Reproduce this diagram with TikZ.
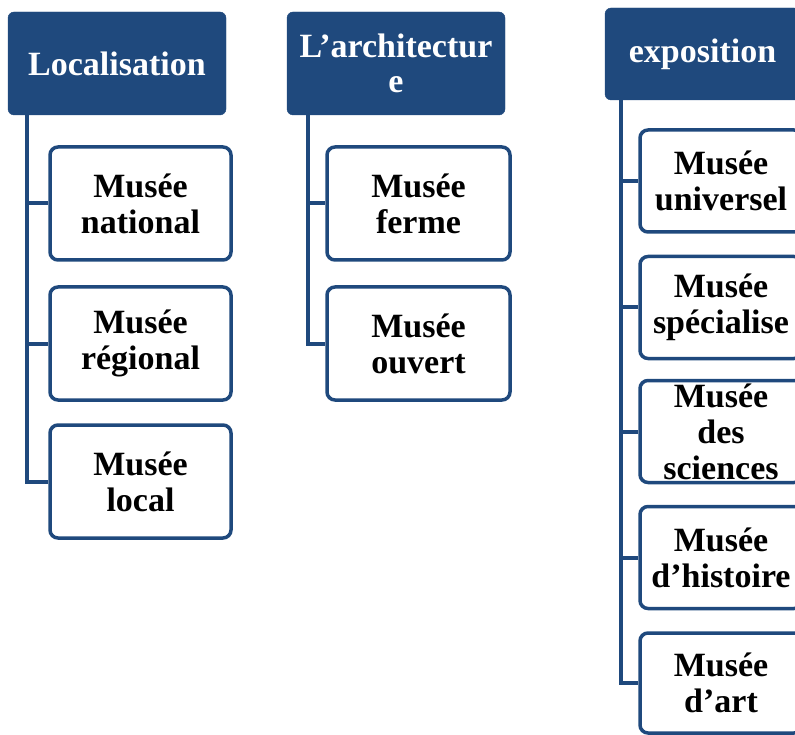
\documentclass[tikz,border=0pt]{standalone}
\usepackage{fontspec}
\setmainfont{Liberation Serif}
\usepackage{xcolor}
\definecolor{navy}{RGB}{31,73,125}

\begin{document}
\begin{tikzpicture}[x=1pt, y=-1pt,
        hdr/.style={rectangle, rounded corners=6pt, fill=navy, draw=navy, text=white, align=center, inner sep=0pt, font=\bfseries\fontsize{34}{35}\selectfont},
        item/.style={rectangle, rounded corners=8pt, fill=white, draw=navy, line width=3.5pt, align=center, inner sep=0pt, font=\bfseries\fontsize{34}{36}\selectfont},
        tree/.style={draw=navy, line width=4pt}]
        \useasboundingbox (0,0) rectangle (795,735);

        % Localisation
        \node[hdr, minimum width=218pt, minimum height=103pt] (loc) at (117, 63.5) {Localisation};
        \node[item, minimum width=181pt, minimum height=113pt] (nat) at (140.5, 203.5) {Musée\\national};
        \node[item, minimum width=181pt, minimum height=113pt] (reg) at (140.5, 343.5) {Musée\\régional};
        \node[item, minimum width=181pt, minimum height=113pt] (lcl) at (140.5, 481.5) {Musée\\local};

        % Architecture
        \node[hdr, minimum width=218pt, minimum height=103pt] (arch) at (396, 63.5) {L’architectur\\e};
        \node[item, minimum width=183pt, minimum height=113pt] (ferme) at (418.5, 203.5) {Musée\\ferme};
        \node[item, minimum width=183pt, minimum height=113pt] (ouv) at (418.5, 343.5) {Musée\\ouvert};

        % Exposition
        \node[hdr, minimum width=195pt, minimum height=92pt] (expo) at (702.5, 54) {exposition};
        \node[item, minimum width=162pt, minimum height=102pt] (univ) at (721, 181) {Musée\\universel};
        \node[item, minimum width=162pt, minimum height=102pt] (spec) at (721, 307.5) {Musée\\spécialise};
        \node[item, minimum width=162pt, minimum height=102pt] (sci) at (721, 431.5) {Musée\\des\\sciences};
        \node[item, minimum width=162pt, minimum height=102pt] (hist) at (721, 557.5) {Musée\\d’histoire};
        \node[item, minimum width=162pt, minimum height=100pt] (art) at (721, 683) {Musée\\d’art};

        % Connections
        \foreach \c in {nat, reg, lcl}
            \draw[tree] ([xshift=19pt]loc.south west) |- (\c.west);
        \foreach \c in {ferme, ouv}
            \draw[tree] ([xshift=21pt]arch.south west) |- (\c.west);
        \foreach \c in {univ, spec, sci, hist, art}
            \draw[tree] ([xshift=16pt]expo.south west) |- (\c.west);
    \end{tikzpicture}
\end{document}
